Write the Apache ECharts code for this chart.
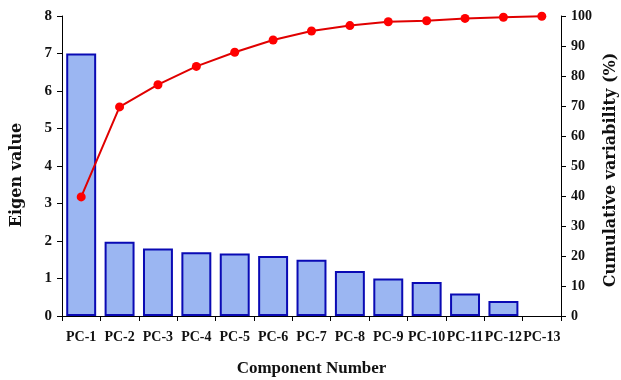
<!DOCTYPE html>
<html><head><meta charset="utf-8">
<script src="https://cdn.jsdelivr.net/npm/echarts@6/dist/echarts.min.js"></script>
<style>html,body{margin:0;padding:0;background:#fff}#c{width:621px;height:380px}</style>
</head><body><div id="c"></div>
<script>
var categories = ['PC-1','PC-2','PC-3','PC-4','PC-5','PC-6','PC-7','PC-8','PC-9','PC-10','PC-11','PC-12','PC-13'];
var eigenValues = [7.0, 1.98, 1.8, 1.7, 1.67, 1.6, 1.5, 1.2, 1.0, 0.91, 0.6, 0.4, 0];
var cumulativeVariability = [39.7, 69.7, 77.1, 83.2, 87.9, 92.0, 95.0, 96.8, 98.1, 98.4, 99.2, 99.6, 99.9];
var leftTicks = [0, 8, 1];
var rightTicks = [0, 100, 10];

var FONT = '"Liberation Serif", "DejaVu Serif", serif';
var WIDE = '"DejaVu Serif", serif';
var barData = eigenValues.map(function (v) {
  return v === 0 ? {value: v, itemStyle: {borderWidth: 0}} : v;
});
var chart = echarts.init(document.getElementById('c'));
chart.setOption({
  animation: false,
  grid: {left: 62, right: 60, top: 16, bottom: 64, containLabel: false, outerBoundsMode: 'none'},
  xAxis: {
    type: 'category', data: categories,
    name: 'Component Number', nameLocation: 'middle', nameGap: 44,
    nameTextStyle: {fontFamily: FONT, fontWeight: 'bold', fontSize: 17, color: '#111'},
    axisLine: {lineStyle: {color: '#000', width: 1}},
    axisTick: {show: true, length: 5, lineStyle: {color: '#000'}},
    axisLabel: {fontFamily: FONT, fontWeight: 'bold', fontSize: 14, color: '#111', margin: 14, interval: 0}
  },
  yAxis: [{
    type: 'value', min: leftTicks[0], max: leftTicks[1], interval: leftTicks[2],
    name: 'Eigen value', nameLocation: 'middle', nameGap: 37, nameRotate: 90,
    nameTextStyle: {fontFamily: WIDE, fontWeight: 'bold', fontSize: 16, color: '#111', padding: [0, 18, 0, 0]},
    axisLine: {show: true, lineStyle: {color: '#000'}},
    axisTick: {show: true, length: 5, lineStyle: {color: '#000'}},
    splitLine: {show: false},
    axisLabel: {fontFamily: FONT, fontWeight: 'bold', fontSize: 15, color: '#111', margin: 10}
  }, {
    type: 'value', min: rightTicks[0], max: rightTicks[1], interval: rightTicks[2], position: 'right',
    name: 'Cumulative variability (%)', nameLocation: 'middle', nameGap: 42, nameRotate: 90,
    nameTextStyle: {fontFamily: WIDE, fontWeight: 'bold', fontSize: 16, color: '#111', padding: [0, 8, 0, 0]},
    axisLine: {show: true, lineStyle: {color: '#000'}},
    axisTick: {show: true, length: 5, lineStyle: {color: '#000'}},
    splitLine: {show: false},
    axisLabel: {fontFamily: FONT, fontWeight: 'bold', fontSize: 14, color: '#111', margin: 10}
  }],
  series: [{
    type: 'bar', data: barData, yAxisIndex: 0, barWidth: '78%',
    itemStyle: {color: '#9bb6f2', borderColor: '#0a0ab4', borderWidth: 2}
  }, {
    type: 'line', data: cumulativeVariability, yAxisIndex: 1,
    symbol: 'circle', symbolSize: 9,
    lineStyle: {color: '#e00000', width: 2},
    itemStyle: {color: '#ff0000'}
  }]
});
</script></body></html>
